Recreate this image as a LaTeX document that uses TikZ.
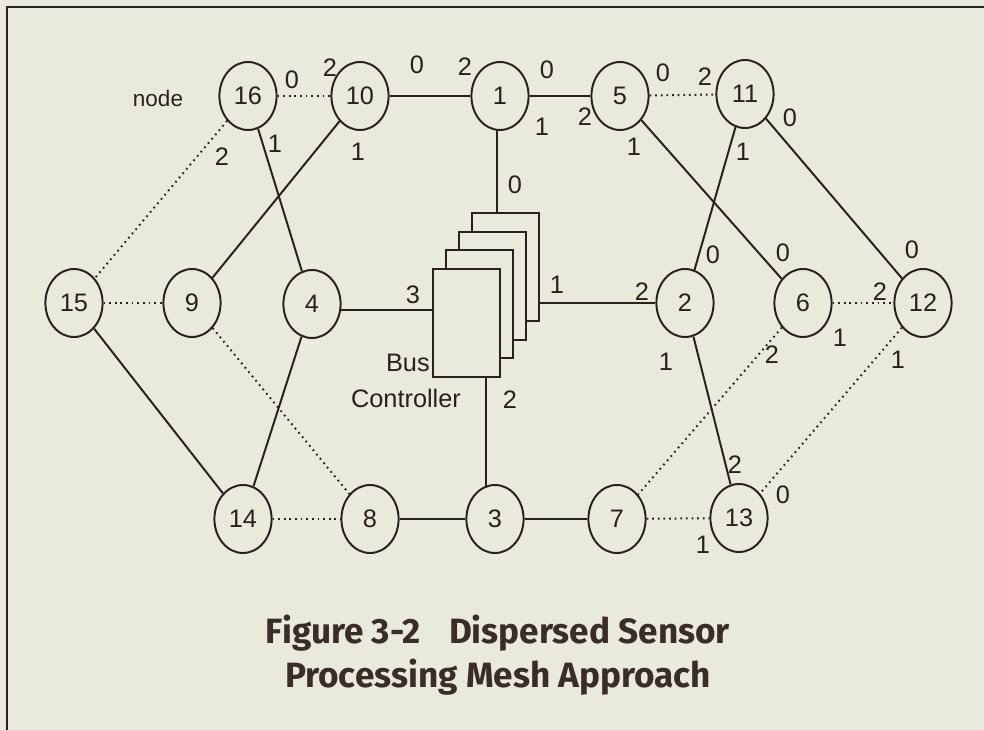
\documentclass[tikz,border=0pt]{standalone}
\usepackage{fontspec}
\setmainfont{Liberation Sans}
\newfontfamily\capfont{Fira Sans}
\usetikzlibrary{positioning,shapes.geometric}
\definecolor{ink}{HTML}{2A201D}
\definecolor{capink}{HTML}{3A2C28}
\definecolor{paper}{HTML}{E9EADB}

\begin{document}
\begin{tikzpicture}[x=0.25mm,y=-0.25mm,
  meshnode/.style={draw=ink,ellipse,line width=1.4pt,minimum width=14.3mm,minimum height=17mm,inner sep=0,font=\fontsize{18}{20}\selectfont,text=ink},
  port/.style={font=\fontsize{18}{20}\selectfont,text=ink,inner sep=0},
  link/.style={draw=ink,line width=1.4pt},
  dotlink/.style={draw=ink,line width=1.4pt,dash pattern=on 1.2pt off 2.8pt},
  buscard/.style={draw=ink,fill=paper,line width=1.4pt,minimum width=16.8mm,minimum height=27mm,inner sep=0},
  caption/.style={anchor=base,text=capink,font=\capfont\bfseries\fontsize{25}{30}\selectfont}]
  \fill[paper] (0,0) rectangle (984,730);
  \useasboundingbox (0,0) rectangle (984,730);
  \draw[ink,line width=1.6pt] (7,730) -- (7,7) -- (984,7);
  % mesh nodes
  \foreach \nm/\px/\py in {16/248/96,10/360/96,1/500/96,5/620/96,11/745/94,
      15/74/303,9/192/303,4/312/304,2/685/303,6/803/303,12/923/303,
      14/243/519,8/370/519,3/495/519,7/617/519,13/739/518}
    \node[meshnode] (n\nm) at (\px,\py) {\nm};
  \node[font=\fontsize{16}{18}\selectfont,text=ink] (nodelbl) at (158,98) {node};
  % bus controller cards, back to front
  \foreach \k in {3,2,1,0}
    \node[buscard] (bus\k) at ({466.5+13*\k},{323-18.7*\k}) {};
  \node[port,anchor=east] (buslbl) at (430,363) {Bus};
  \node[port] (ctrllbl) at (406,398) {Controller};
  % links
  \draw[dotlink] (n16) -- (n10);
  \draw[link] (n10) -- (n1);
  \draw[link] (n1) -- (n5);
  \draw[dotlink] (n5) -- (n11);
  \draw[link] (n11) -- (n12);
  \draw[dotlink] (n16) -- (n15);
  \draw[link] (n16) -- (n4);
  \draw[link] (n10) -- (n9);
  \draw[link] (n5) -- (n6);
  \draw[link] (n11) -- (n2);
  \draw[dotlink] (n15) -- (n9);
  \draw[link] (n15) -- (n14);
  \draw[dotlink] (n9) -- (n8);
  \draw[link] (n4) -- (n14);
  \draw[link] (n2) -- (n13);
  \draw[dotlink] (n6) -- (n12);
  \draw[dotlink] (n6) -- (n7);
  \draw[dotlink] (n12) -- (n13);
  \draw[dotlink] (n14) -- (n8);
  \draw[link] (n8) -- (n3);
  \draw[link] (n3) -- (n7);
  \draw[dotlink] (n7) -- (n13);
  \draw[link] (n1.-95) -- (n1.-95 |- bus3.north);
  \draw[link] (n4.-12) -- (n4.-12 -| bus0.west);
  \draw[link] (n2.west -| bus3.east) -- (n2.west);
  \draw[link] (n3.105) -- (n3.105 |- bus0.south);
  % port numbers
  \def\port#1#2#3#4{\node[port] (#1) at (#2,#3) {#4};}
  \port{p16x0}{292}{80}{0}
  \port{p16x1}{275}{144}{1}
  \port{p16x2}{222}{157}{2}
  \port{p10x2}{330}{68}{2}
  \port{p10x0}{417}{65}{0}
  \port{p10x1}{358}{152}{1}
  \port{p1x2}{465}{67}{2}
  \port{p1x0}{547}{70}{0}
  \port{p1x1}{542}{127}{1}
  \port{p5x2}{585}{117}{2}
  \port{p5x0}{663}{73}{0}
  \port{p5x1}{634}{147}{1}
  \port{p11x2}{705}{77}{2}
  \port{p11x0}{790}{118}{0}
  \port{p11x1}{743}{152}{1}
  \port{pbx0}{515}{185}{0}
  \port{pbx3}{413}{295}{3}
  \port{pbx1}{557}{285}{1}
  \port{pbx2}{510}{400}{2}
  \port{p2x0}{713}{255}{0}
  \port{p2x2}{642}{292}{2}
  \port{p2x1}{666}{362}{1}
  \port{p6x0}{783}{253}{0}
  \port{p6x1}{840}{338}{1}
  \port{p6x2}{772}{355}{2}
  \port{p12x0}{912}{250}{0}
  \port{p12x2}{880}{292}{2}
  \port{p12x1}{898}{360}{1}
  \port{p13x2}{735}{465}{2}
  \port{p13x0}{783}{495}{0}
  \port{p13x1}{703}{545}{1}
  % caption
  \node[caption] (cap1) at (498,643) {Figure 3-2\hspace{0.8em}Dispersed Sensor};
  \node[caption] (cap2) at (498,687) {Processing Mesh Approach};
\end{tikzpicture}
\end{document}
